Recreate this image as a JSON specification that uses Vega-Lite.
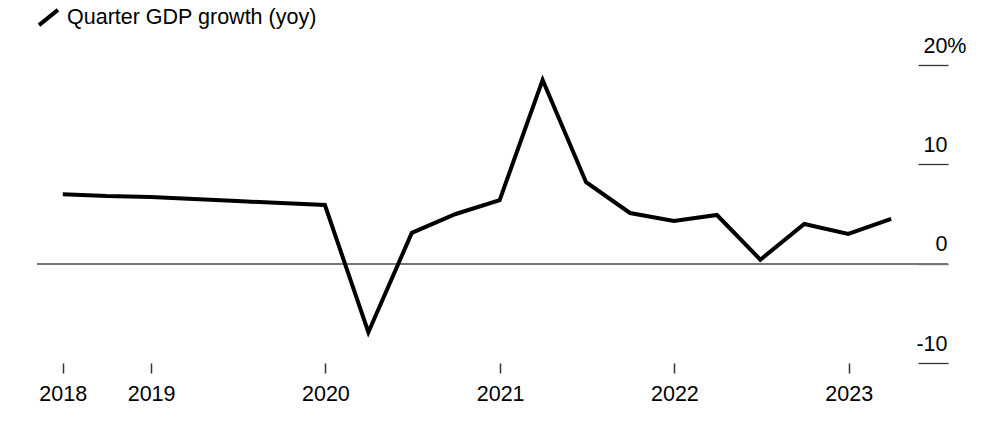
{
  "$schema": "https://vega.github.io/schema/vega-lite/v6.json",
  "autosize": "none",
  "width": 911,
  "height": 298,
  "padding": {"left": 37, "top": 65, "right": 54, "bottom": 61},
  "background": "white",
  "config": {
    "view": {"stroke": null},
    "font": "Liberation Sans",
    "axis": {"labelFont": "Liberation Sans", "labelColor": "#000000", "domain": false, "grid": false}
  },
  "data": {
    "values": [
      {"date": "2018-06-30", "growth": 7.0, "series": "Quarter GDP growth (yoy)"},
      {"date": "2018-09-30", "growth": 6.8, "series": "Quarter GDP growth (yoy)"},
      {"date": "2018-12-31", "growth": 6.7, "series": "Quarter GDP growth (yoy)"},
      {"date": "2019-03-31", "growth": 6.5, "series": "Quarter GDP growth (yoy)"},
      {"date": "2019-06-30", "growth": 6.3, "series": "Quarter GDP growth (yoy)"},
      {"date": "2019-09-30", "growth": 6.1, "series": "Quarter GDP growth (yoy)"},
      {"date": "2019-12-31", "growth": 5.9, "series": "Quarter GDP growth (yoy)"},
      {"date": "2020-03-31", "growth": -6.9, "series": "Quarter GDP growth (yoy)"},
      {"date": "2020-06-30", "growth": 3.1, "series": "Quarter GDP growth (yoy)"},
      {"date": "2020-09-30", "growth": 5.0, "series": "Quarter GDP growth (yoy)"},
      {"date": "2020-12-31", "growth": 6.4, "series": "Quarter GDP growth (yoy)"},
      {"date": "2021-03-31", "growth": 18.5, "series": "Quarter GDP growth (yoy)"},
      {"date": "2021-06-30", "growth": 8.2, "series": "Quarter GDP growth (yoy)"},
      {"date": "2021-09-30", "growth": 5.1, "series": "Quarter GDP growth (yoy)"},
      {"date": "2021-12-31", "growth": 4.3, "series": "Quarter GDP growth (yoy)"},
      {"date": "2022-03-31", "growth": 4.9, "series": "Quarter GDP growth (yoy)"},
      {"date": "2022-06-30", "growth": 0.4, "series": "Quarter GDP growth (yoy)"},
      {"date": "2022-09-30", "growth": 4.0, "series": "Quarter GDP growth (yoy)"},
      {"date": "2022-12-31", "growth": 3.0, "series": "Quarter GDP growth (yoy)"},
      {"date": "2023-03-31", "growth": 4.5, "series": "Quarter GDP growth (yoy)"}
    ]
  },
  "layer": [
    {
      "mark": {"type": "rule", "color": "#777777", "strokeWidth": 1.3},
      "encoding": {"y": {"datum": 0, "type": "quantitative", "scale": {"domain": [-10, 20], "nice": false, "zero": false}}}
    },
    {
      "mark": {"type": "line", "strokeWidth": 4, "strokeJoin": "miter"},
      "encoding": {
        "x": {
          "field": "date", "type": "temporal", "title": null,
          "scale": {"domain": [{"year": 2018, "month": 5, "date": 7}, {"year": 2023, "month": 7, "date": 28}]},
          "axis": {
            "orient": "bottom",
            "values": [
              {"year": 2018, "month": 6, "date": 30},
              {"year": 2019, "month": 1, "date": 1},
              {"year": 2020, "month": 1, "date": 1},
              {"year": 2021, "month": 1, "date": 1},
              {"year": 2022, "month": 1, "date": 1},
              {"year": 2023, "month": 1, "date": 1}
            ],
            "labelExpr": "timeFormat(datum.value, '%Y')",
            "tickSize": 10, "tickColor": "#333333", "tickWidth": 1.5,
            "labelFontSize": 21.5, "labelPadding": 10
          }
        },
        "y": {
          "field": "growth", "type": "quantitative", "title": null,
          "scale": {"domain": [-10, 20], "nice": false, "zero": false},
          "axis": {
            "orient": "right",
            "values": [-10, 0, 10, 20],
            "labelExpr": "datum.value == 20 ? '20%' : toString(datum.value)",
            "offset": -30, "tickSize": 30, "tickColor": "#333333", "tickWidth": 1.3,
            "labelAlign": "right", "labelBaseline": "alphabetic",
            "labelPadding": {"condition": {"test": "datum.value == 20", "value": 18}, "value": -1},
            "labelOffset": -13,
            "labelFontSize": 21.5
          }
        },
        "color": {
          "field": "series", "type": "nominal",
          "scale": {"range": ["#000000"]},
          "legend": {
            "title": null, "orient": "none", "legendX": 0, "legendY": -59, "padding": 0,
            "symbolType": "M-1,0.8L1,-0.8", "symbolSize": 361, "symbolStrokeWidth": 4,
            "labelFontSize": 21.5, "labelColor": "#000000", "labelOffset": 7, "labelLimit": 0,
            "labelFont": "Liberation Sans"
          }
        }
      }
    }
  ]
}
